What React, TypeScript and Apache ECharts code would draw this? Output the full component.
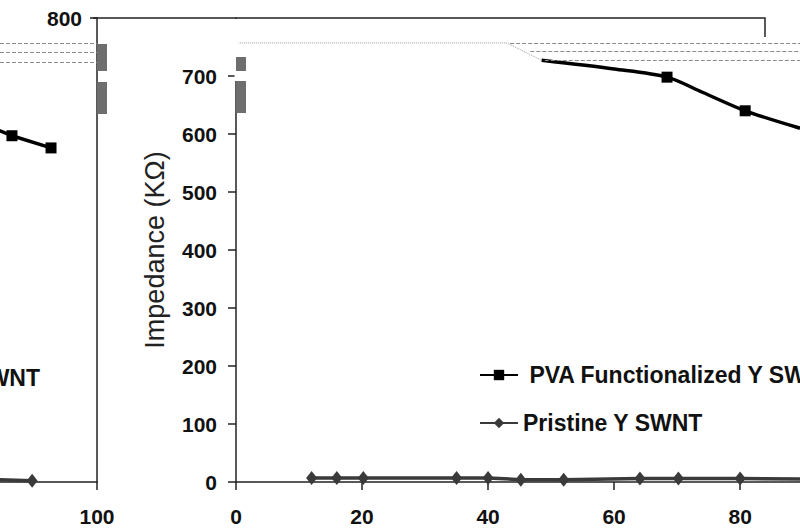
import React, { useEffect, useRef } from "react";
import * as echarts from "echarts";

// ---- tick labels ----
const xTickValues = [0, 20, 40, 60, 80];
const yTickValues = [0, 100, 200, 300, 400, 500, 600, 700];
const insetXTicks = [100];
const insetYTicks = [800];

// ---- main panel: PVA functionalized Y SWNT ----
const pvaX = [48.5, 60, 68.4, 74, 80.8, 89.5];
const pvaY = [727, 712, 698, 672, 640, 610];
const pvaMarked = [false, false, true, false, true, false];

// faint head of the PVA curve (as it appears in the scan)
const pvaFaintX = [-21.6, 43, 48.5];
const pvaFaintY = [757, 757, 727];

// ghost dashed levels in the scan
const ghostLevels = [757, 743, 727];
const ghostStartX = [43.5, 46.7, 49];
const insetGhostLevels = [757, 741, 724];

// ---- main panel: Pristine Y SWNT ----
const pristineX = [12, 16, 20.2, 35, 40, 45.2, 52, 64.1, 70.2, 80, 89.5];
const pristineY = [7, 7, 7, 7, 7, 4, 4, 6, 6, 6, 5];
const pristineMarked = [true, true, true, true, true, true, true, true, true, true, false];

// ---- inset (left) panel ----
const insetPvaX = [84, 86.5, 92.7];
const insetPvaY = [608, 597, 576];
const insetPvaMarked = [false, true, true];
const insetPristineX = [84, 89.7];
const insetPristineY = [4, 2];
const insetPristineMarked = [false, true];

const PVA = "PVA Functionalized Y SWNT";
const PRI = "Pristine Y SWNT";
const FONT = "Liberation Sans, Arial, sans-serif";

function build(xs: number[], ys: number[], marked: boolean[], sym: string) {
  return xs.map((x, i) => ({ value: [x, ys[i]], symbol: marked[i] ? sym : "none" }));
}

export default function App() {
  const ref = useRef<HTMLDivElement>(null);
  useEffect(() => {
    if (!ref.current) return;
    const chart = echarts.init(ref.current, undefined, { renderer: "svg" });
    const axisColor = "#222";
    const tickLabel = { fontSize: 21, fontWeight: "bold" as const, color: "#111", fontFamily: FONT };
    const ghostStyle = { color: "#8a8a8a", width: 1, type: "dashed" as const };

    chart.setOption({
      animation: false,
      backgroundColor: "#fff",
      grid: [
        { left: 236, top: 18, width: 564, height: 464 },
        { left: 0, top: 18, width: 97, height: 464 },
      ],
      legend: {
        orient: "vertical",
        left: 474,
        top: 358,
        itemWidth: 38,
        itemHeight: 13,
        itemGap: 24,
        data: [PVA, PRI],
        formatter: (n: string) => (n === PVA ? " " + n : n),
        textStyle: { fontSize: 23, fontWeight: "bold", color: "#111", fontFamily: FONT, lineHeight: 24 },
      },
      xAxis: [
        {
          gridIndex: 0, type: "value", min: 0, max: 89.5, interval: 20,
          axisLine: { show: true, lineStyle: { color: axisColor, width: 1.5 } },
          axisTick: { show: true, length: 8, customValues: xTickValues, lineStyle: { color: axisColor, width: 1.5 } },
          axisLabel: { ...tickLabel, margin: 24, customValues: xTickValues },
          splitLine: { show: false },
        },
        {
          gridIndex: 1, type: "value", min: 84.6, max: 100, interval: 20,
          axisLine: { show: true, lineStyle: { color: axisColor, width: 1.5 } },
          axisTick: { show: true, length: 8, customValues: insetXTicks, lineStyle: { color: axisColor, width: 1.5 } },
          axisLabel: { ...tickLabel, margin: 24, customValues: insetXTicks },
          splitLine: { show: false },
        },
      ],
      yAxis: [
        {
          gridIndex: 0, type: "value", min: 0, max: 800, interval: 100,
          axisLine: { show: true, lineStyle: { color: axisColor, width: 1.5 } },
          axisTick: { show: true, length: 8, customValues: yTickValues, lineStyle: { color: axisColor, width: 1.5 } },
          axisLabel: { ...tickLabel, margin: 19, customValues: yTickValues },
          splitLine: { show: false },
          name: "Impedance (KΩ)",
          nameLocation: "middle",
          nameGap: 68,
          nameTextStyle: { fontSize: 27, color: "#222", fontFamily: FONT },
        },
        {
          gridIndex: 1, type: "value", min: 0, max: 800, interval: 100, position: "right",
          axisLine: { show: true, lineStyle: { color: axisColor, width: 1.5 } },
          axisTick: { show: true, inside: true, length: 7, customValues: insetYTicks, lineStyle: { color: axisColor, width: 1.5 } },
          axisLabel: { ...tickLabel, inside: true, margin: 15, customValues: insetYTicks },
          splitLine: { show: false },
        },
      ],
      series: [
        {
          name: "pva-faint", type: "line", xAxisIndex: 0, yAxisIndex: 0, clip: false, silent: true,
          data: pvaFaintX.map((x, i) => [x, pvaFaintY[i]]),
          showSymbol: false, symbol: "none",
          lineStyle: { color: "#9a9a9a", width: 1, type: "dotted" },
          markLine: {
            silent: true, symbol: "none", label: { show: false },
            lineStyle: ghostStyle,
            data: ghostLevels.map((v, i) => [{ coord: [ghostStartX[i], v] }, { coord: [89.5, v] }]),
          },
          z: 1,
        },
        {
          name: PVA, type: "line", xAxisIndex: 0, yAxisIndex: 0,
          data: build(pvaX, pvaY, pvaMarked, "rect"),
          symbol: "rect", symbolSize: 11, smooth: 0.3,
          itemStyle: { color: "#000" },
          lineStyle: { color: "#000", width: 3.5 },
          z: 3,
        },
        {
          name: PRI, type: "line", xAxisIndex: 0, yAxisIndex: 0,
          data: build(pristineX, pristineY, pristineMarked, "diamond"),
          symbol: "diamond", symbolSize: [11, 14],
          itemStyle: { color: "#3a3a3a" },
          lineStyle: { color: "#3a3a3a", width: 3.5 },
          z: 3,
        },
        {
          name: PVA, type: "line", xAxisIndex: 1, yAxisIndex: 1,
          data: build(insetPvaX, insetPvaY, insetPvaMarked, "rect"),
          symbol: "rect", symbolSize: 11,
          itemStyle: { color: "#000" },
          lineStyle: { color: "#000", width: 3.5 },
          markLine: {
            silent: true, symbol: "none", label: { show: false },
            lineStyle: ghostStyle,
            data: insetGhostLevels.map((v) => [{ coord: [84.6, v] }, { coord: [100, v] }]),
          },
          z: 3,
        },
        {
          name: PRI, type: "line", xAxisIndex: 1, yAxisIndex: 1,
          data: build(insetPristineX, insetPristineY, insetPristineMarked, "diamond"),
          symbol: "diamond", symbolSize: [11, 14],
          itemStyle: { color: "#3a3a3a" },
          lineStyle: { color: "#3a3a3a", width: 3.5 },
          z: 3,
        },
      ],
      graphic: [
        { type: "polyline", shape: { points: [[93, 18], [765, 18], [765, 37]] }, style: { stroke: axisColor, lineWidth: 1.5, fill: "none" }, z: 10 },
        { type: "rect", shape: { x: 234.5, y: 19, width: 4, height: 62 }, style: { fill: "#fff" }, z: 10 },
        { type: "rect", shape: { x: 97, y: 44, width: 10, height: 27 }, style: { fill: "#6e6e6e" }, z: 11 },
        { type: "rect", shape: { x: 97, y: 82, width: 10, height: 32 }, style: { fill: "#6e6e6e" }, z: 11 },
        { type: "rect", shape: { x: 236, y: 57, width: 10, height: 14 }, style: { fill: "#6e6e6e" }, z: 11 },
        { type: "rect", shape: { x: 236, y: 81, width: 10, height: 32 }, style: { fill: "#6e6e6e" }, z: 11 },
        {
          type: "text", x: 40, y: 378, z: 10,
          style: { text: "Y SWNT", align: "right", verticalAlign: "middle", fontSize: 23, fontWeight: "bold", fill: "#111", fontFamily: FONT },
        },
      ],
    });
    return () => chart.dispose();
  }, []);
  return (
    <div
      ref={ref}
      style={{ position: "fixed", left: 0, top: 0, width: 800, height: 532, background: "#fff" }}
    />
  );
}
